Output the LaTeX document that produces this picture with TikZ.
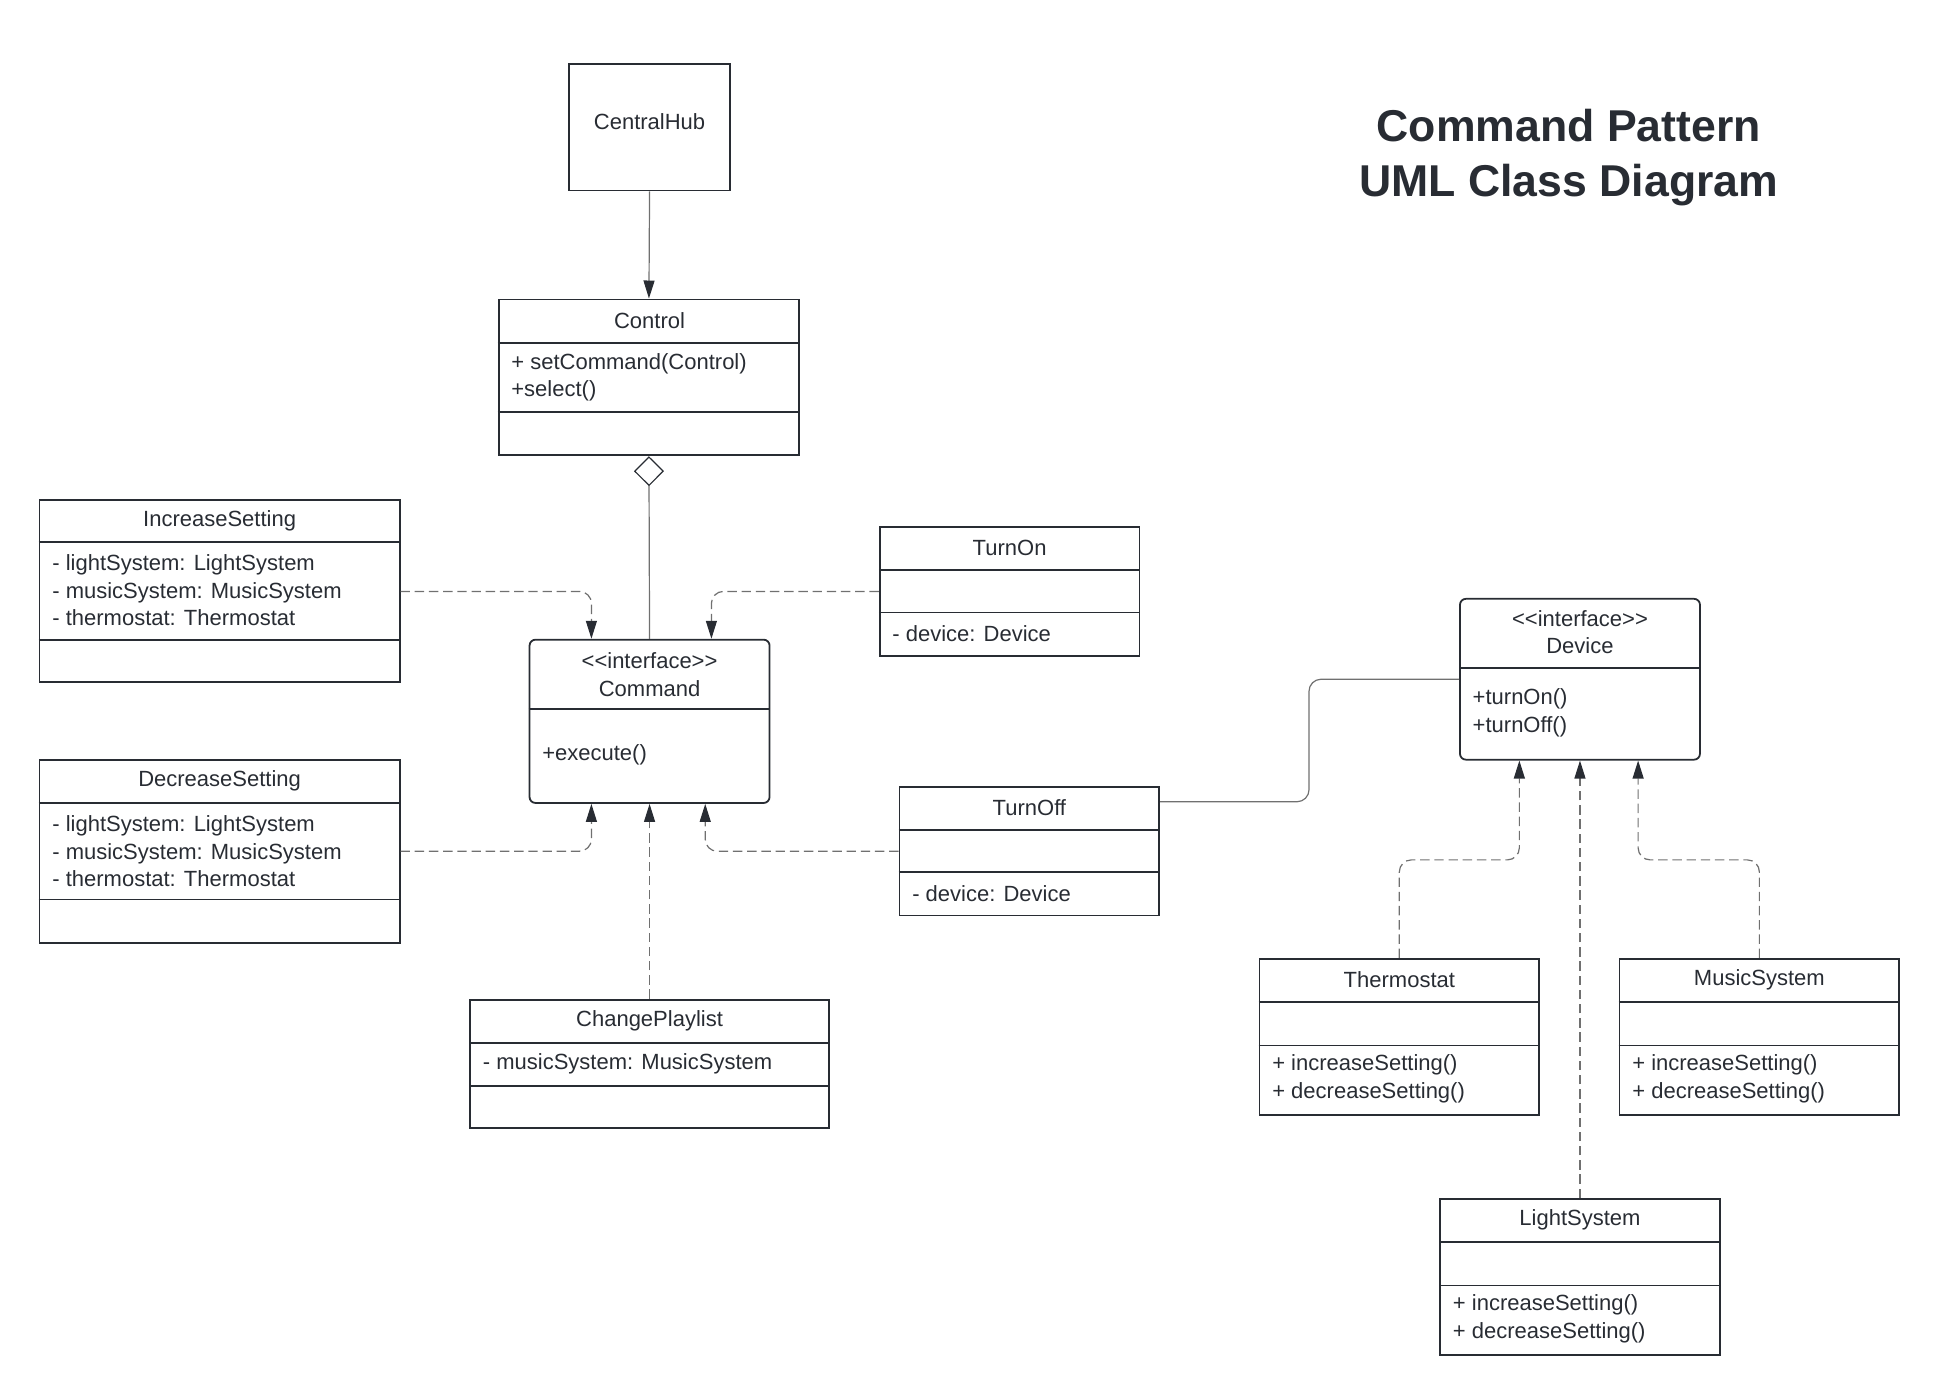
\documentclass[tikz,border=0pt]{standalone}
\usepackage{fontspec}
\setmainfont{Liberation Sans}
\usetikzlibrary{positioning,fit,arrows.meta}
\definecolor{ink}{HTML}{282C33}
\definecolor{dashgray}{HTML}{707070}

\tikzset{
  cls/.style={draw=ink, line width=0.9pt, inner sep=0pt},
  iface/.style={cls, rounded corners=3pt},
  divider/.style={draw=ink, line width=0.9pt},
  clsname/.style={inner sep=0pt, align=center, yshift=-1.3pt},
  members/.style={anchor=west, inner sep=0pt, align=left, yshift=-1.3pt},
  tip/.style={-{Triangle[length=9pt, width=5.5pt, color=ink]}},
  dep/.style={draw=dashgray, line width=0.6pt, dash pattern=on 4.7pt off 2.4pt, rounded corners=6pt, tip},
  assoc/.style={draw=dashgray, line width=0.6pt, rounded corners=6pt},
  agg/.style={assoc, {Diamond[open, length=15pt, width=15pt, fill=white, color=ink]}-}
}

\begin{document}
\begin{tikzpicture}[x=0.6186pt, y=-0.6186pt, font=\fontsize{11}{13.75}\selectfont, text=ink]
      \useasboundingbox (0,0) rectangle (1568,1127.5);

      % title
      \node[align=center, font=\fontsize{22.3}{27.5}\selectfont\bfseries] (title) at (1268,127) {Command Pattern\\UML Class Diagram};

      % central hub and control
      \node[cls, fit={(460,52) (590,154)}] (hub) {\raisebox{-2pt}{CentralHub}};

      \node[cls, fit={(403,242) (646,368)}] (ctl) {};
      \draw[divider] (ctl.west |- 0,277) -- (ctl.east |- 0,277);
      \draw[divider] (ctl.west |- 0,333) -- (ctl.east |- 0,333);
      \node[clsname] (ctlname) at (525,257) {Control};
      \node[members] (ctlops) at (413,303) {+ setCommand(Control)\\+select()};

      % command interface
      \node[iface, fit={(428,517) (622,649)}] (cmd) {};
      \draw[divider] (cmd.west |- 0,573) -- (cmd.east |- 0,573);
      \node[clsname] (cmdname) at (525,543) {{<}{<}interface{>}{>}\\Command};
      \node[members] (cmdops) at (438,608) {+execute()};

      % concrete commands
      \node[cls, fit={(32,404) (323,551)}] (inc) {};
      \draw[divider] (inc.west |- 0,438) -- (inc.east |- 0,438);
      \draw[divider] (inc.west |- 0,517) -- (inc.east |- 0,517);
      \node[clsname] (incname) at (177.5,419) {IncreaseSetting};
      \node[members] (incattr) at (42,475) {- lightSystem: LightSystem\\- musicSystem: MusicSystem\\- thermostat: Thermostat};

      \node[cls, fit={(32,614) (323,762)}] (dec) {};
      \draw[divider] (dec.west |- 0,649) -- (dec.east |- 0,649);
      \draw[divider] (dec.west |- 0,727) -- (dec.east |- 0,727);
      \node[clsname] (decname) at (177.5,629) {DecreaseSetting};
      \node[members] (decattr) at (42,686) {- lightSystem: LightSystem\\- musicSystem: MusicSystem\\- thermostat: Thermostat};

      \node[cls, fit={(711,426) (921,530)}] (on) {};
      \draw[divider] (on.west |- 0,461) -- (on.east |- 0,461);
      \draw[divider] (on.west |- 0,495) -- (on.east |- 0,495);
      \node[clsname] (onname) at (816,441) {TurnOn};
      \node[members] (onattr) at (721,510) {- device: Device};

      \node[cls, fit={(727,636) (937,740)}] (off) {};
      \draw[divider] (off.west |- 0,671) -- (off.east |- 0,671);
      \draw[divider] (off.west |- 0,705) -- (off.east |- 0,705);
      \node[clsname] (offname) at (832,651) {TurnOff};
      \node[members] (offattr) at (737,720) {- device: Device};

      \node[cls, fit={(380,808) (670,912)}] (chg) {};
      \draw[divider] (chg.west |- 0,843) -- (chg.east |- 0,843);
      \draw[divider] (chg.west |- 0,878) -- (chg.east |- 0,878);
      \node[clsname] (chgname) at (525,823) {ChangePlaylist};
      \node[members] (chgattr) at (390,858) {- musicSystem: MusicSystem};

      % device interface and receivers
      \node[iface, fit={(1180,484) (1374,614)}] (dev) {};
      \draw[divider] (dev.west |- 0,540) -- (dev.east |- 0,540);
      \node[clsname] (devname) at (1277,509) {{<}{<}interface{>}{>}\\Device};
      \node[members] (devops) at (1190,574) {+turnOn()\\+turnOff()};

      \node[cls, fit={(1018,775) (1244,901)}] (therm) {};
      \draw[divider] (therm.west |- 0,810) -- (therm.east |- 0,810);
      \draw[divider] (therm.west |- 0,845) -- (therm.east |- 0,845);
      \node[clsname] (thermname) at (1131,790) {Thermostat};
      \node[members] (thermops) at (1028,870) {+ increaseSetting()\\+ decreaseSetting()};

      \node[cls, fit={(1309,775) (1535,901)}] (mus) {};
      \draw[divider] (mus.west |- 0,810) -- (mus.east |- 0,810);
      \draw[divider] (mus.west |- 0,845) -- (mus.east |- 0,845);
      \node[clsname] (musname) at (1422,790) {MusicSystem};
      \node[members] (musops) at (1319,870) {+ increaseSetting()\\+ decreaseSetting()};

      \node[cls, fit={(1164,969) (1390,1095)}] (lgt) {};
      \draw[divider] (lgt.west |- 0,1004) -- (lgt.east |- 0,1004);
      \draw[divider] (lgt.west |- 0,1039) -- (lgt.east |- 0,1039);
      \node[clsname] (lgtname) at (1277,984) {LightSystem};
      \node[members] (lgtops) at (1174,1064) {+ increaseSetting()\\+ decreaseSetting()};

      % connectors
      \draw[assoc, tip] (hub.south) -- (ctl.north);
      \draw[agg] (ctl.south) -- (cmd.north);
      \draw[dep] (inc.east |- 0,478) -| (cmd.north -| 478,0);
      \draw[dep] (on.west |- 0,478) -| (cmd.north -| 575,0);
      \draw[dep] (dec.east |- 0,688) -| (cmd.south -| 478,0);
      \draw[dep] (off.west |- 0,688) -| (cmd.south -| 570,0);
      \draw[dep] (chg.north) -- (cmd.south);
      \draw[assoc] (off.east |- 0,648) -| (1058,600) |- (dev.west |- 0,549);
      \draw[dep] (therm.north) -- (therm.north |- 0,695) -| (dev.south -| 1228,0);
      \draw[dep] (mus.north) -- (mus.north |- 0,695) -| (dev.south -| 1324,0);
      \draw[dep] (lgt.north) -- (dev.south);
    \end{tikzpicture}
\end{document}
